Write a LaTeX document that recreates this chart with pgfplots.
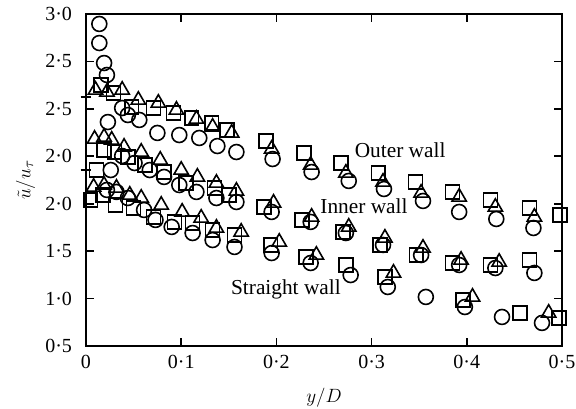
\documentclass[border=0pt]{standalone}
\usepackage{fontspec}
\setmainfont{Liberation Serif}
\usepackage{pgfplots}
\pgfplotsset{compat=1.18}
\begin{document}
\begin{tikzpicture}
\begin{axis}[
  at={(0,0)}, anchor=south west,
  scale only axis, width=357pt, height=249pt,
  xmin=0, xmax=0.5, ymin=0.5, ymax=4.0,
  axis line style={line width=1.4pt},
  every tick/.style={black, line width=1.2pt},
  tick align=inside, major tick length=6pt,
  xtick={0,0.1,0.2,0.3,0.4,0.5},
  xticklabels={0,0·1,0·2,0·3,0·4,0·5},
  ytick={0.5,1,1.5,2,2.5,3,3.5,4},
  yticklabels={0·5,1·0,1·5,2·0,2·0,2·5,2·5,3·0},
  extra y ticks={2.355,3.125},
  extra y tick labels={},
  extra y tick style={tick align=center, major tick length=8pt, ytick pos=left},
  tick label style={font=\fontsize{15}{18}\selectfont},
  xticklabel style={yshift=-3pt},
  yticklabel style={xshift=-7pt},
  xlabel={$y/D$},
  ylabel={$\tilde{u}/u_{\tau}$},
  label style={font=\fontsize{15}{18}\selectfont},
  xlabel style={at={(axis description cs:0.5,-0.157)}, anchor=center},
  ylabel style={at={(axis description cs:-0.127,0.5)}, anchor=center},
  clip=false,
]
% ---------------- Outer wall ----------------
\addplot[only marks, mark=o, mark size=5.6pt, mark options={line width=1.2pt}] coordinates {
(0.014,3.895)(0.014,3.694)(0.019,3.483)(0.022,3.357)(0.038,3.009)(0.044,2.935)
(0.056,2.883)(0.075,2.746)(0.098,2.724)(0.119,2.693)(0.138,2.608)(0.158,2.545)
(0.196,2.471)(0.237,2.334)(0.276,2.240)(0.313,2.155)(0.354,2.029)(0.392,1.913)
(0.431,1.839)(0.470,1.744)};
\addplot[only marks, mark=square, mark size=5.2pt, mark options={line width=1.2pt}] coordinates {
(0.016,3.252)(0.029,3.167)(0.048,3.020)(0.071,3.009)(0.092,2.956)(0.111,2.904)
(0.132,2.851)(0.148,2.777)(0.189,2.661)(0.229,2.535)(0.268,2.429)(0.307,2.324)
(0.346,2.229)(0.385,2.124)(0.425,2.039)(0.466,1.955)(0.498,1.881)};
\addplot[only marks, mark=triangle, mark size=6.2pt, mark options={line width=1.2pt}] coordinates {
(0.010,3.199)(0.022,3.178)(0.038,3.199)(0.055,3.093)(0.076,3.062)(0.095,2.988)
(0.116,2.893)(0.133,2.809)(0.153,2.746)(0.195,2.577)(0.236,2.408)(0.273,2.324)
(0.312,2.229)(0.352,2.113)(0.392,2.071)(0.430,1.965)(0.471,1.860)};
% ---------------- Inner wall ----------------
\addplot[only marks, mark=o, mark size=5.6pt, mark options={line width=1.2pt}] coordinates {
(0.023,2.861)(0.026,2.355)(0.038,2.503)(0.051,2.429)(0.067,2.355)(0.082,2.282)
(0.098,2.197)(0.116,2.124)(0.137,2.060)(0.158,2.018)(0.195,1.913)(0.236,1.808)
(0.273,1.691)(0.312,1.565)(0.352,1.459)(0.392,1.354)(0.430,1.322)(0.471,1.270)};
\addplot[only marks, mark=square, mark size=5.2pt, mark options={line width=1.2pt}] coordinates {
(0.011,2.355)(0.019,2.566)(0.030,2.545)(0.044,2.492)(0.062,2.408)(0.082,2.334)
(0.105,2.218)(0.135,2.166)(0.150,2.092)(0.187,1.965)(0.227,1.829)(0.270,1.702)
(0.309,1.565)(0.347,1.459)(0.385,1.375)(0.425,1.354)(0.466,1.406)};
\addplot[only marks, mark=triangle, mark size=6.2pt, mark options={line width=1.2pt}] coordinates {
(0.009,2.682)(0.019,2.703)(0.027,2.672)(0.040,2.598)(0.058,2.545)(0.078,2.461)
(0.100,2.355)(0.117,2.282)(0.137,2.218)(0.158,2.134)(0.197,2.008)(0.237,1.860)
(0.276,1.755)(0.314,1.639)(0.354,1.533)(0.394,1.406)(0.434,1.385)};
% ---------------- Straight wall ----------------
\addplot[only marks, mark=o, mark size=5.6pt, mark options={line width=1.2pt}] coordinates {
(0.022,2.145)(0.032,2.124)(0.044,2.060)(0.061,1.934)(0.073,1.829)(0.090,1.755)
(0.112,1.691)(0.133,1.617)(0.156,1.544)(0.195,1.480)(0.236,1.375)(0.278,1.248)
(0.317,1.122)(0.357,1.017)(0.398,0.911)(0.437,0.806)(0.479,0.743)};
\addplot[only marks, mark=square, mark size=5.2pt, mark options={line width=1.2pt}] coordinates {
(0.005,2.039)(0.018,2.092)(0.031,1.986)(0.050,1.955)(0.071,1.860)(0.093,1.808)
(0.112,1.797)(0.133,1.723)(0.156,1.670)(0.194,1.565)(0.231,1.438)(0.273,1.354)
(0.314,1.227)(0.396,0.985)(0.456,0.848)(0.497,0.795)};
\addplot[only marks, mark=triangle, mark size=6.2pt, mark options={line width=1.2pt}] coordinates {
(0.008,2.176)(0.019,2.197)(0.032,2.166)(0.046,2.092)(0.058,2.060)(0.079,1.986)
(0.101,1.913)(0.121,1.850)(0.137,1.744)(0.163,1.702)(0.203,1.596)(0.242,1.459)
(0.323,1.270)(0.406,1.017)(0.486,0.848)};
\node[font=\fontsize{16}{19}\selectfont] at (axis cs:0.330,2.566) {Outer wall};
\node[font=\fontsize{16}{19}\selectfont] at (axis cs:0.292,1.976) {Inner wall};
\node[font=\fontsize{16}{19}\selectfont] at (axis cs:0.210,1.101) {Straight wall};
\end{axis}
\pgfresetboundingbox
\path (-64.5pt,-47.25pt) rectangle (367.5pt,259.5pt);
\end{tikzpicture}
\end{document}
